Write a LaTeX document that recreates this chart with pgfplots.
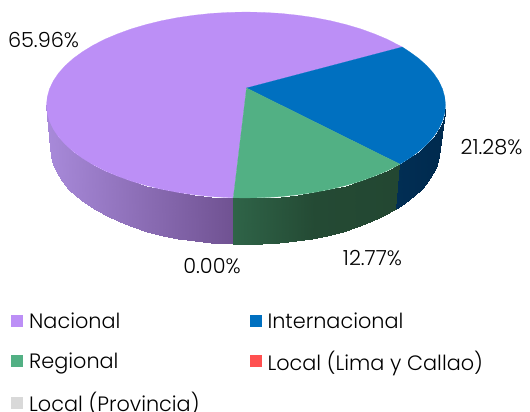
\documentclass[border=0pt]{standalone}
\usepackage{pgfplots}
\usepackage{fontspec}
\setmainfont{Poppins}[UprightFont=* Light]
\pgfplotsset{compat=1.18}
\definecolor{cN}{RGB}{188,143,246}
\definecolor{cI}{RGB}{0,112,192}
\definecolor{cR}{RGB}{82,176,132}
\definecolor{cL}{RGB}{255,80,80}
\definecolor{cP}{RGB}{217,217,217}
\pgfplotsset{
  colormap={sideN}{rgb255=(168,138,218) rgb255=(112,82,146)},
  colormap={sideR}{rgb255=(47,100,72) rgb255=(36,74,52) rgb255=(35,71,50)},
  colormap={sideI}{rgb255=(1,46,84) rgb255=(0,42,78)},
}
\begin{document}
\begin{tikzpicture}
\clip (0,0) rectangle (530pt,412pt);
\begin{axis}[
  at={(0,0)}, anchor=south west,
  scale only axis, width=530pt, height=412pt,
  xmin=0, xmax=530, ymin=0, ymax=412, y dir=reverse,
  hide axis, clip=false,
  point meta min=0, point meta max=1,
  legend columns=2,
  legend cell align=left,
  legend image code/.code={\path[fill=none,draw=none] (0pt,-6pt) rectangle (16pt,6pt);\fill[#1,draw=none] (0pt,-6pt) rectangle (12pt,6pt);},
  legend style={draw=none, fill=none, at={(axis cs:11,310.5)}, anchor=north west,
    font=\fontsize{20.8}{20.8}\selectfont,
    /tikz/column 2/.style={column sep=48pt},
    row sep=16.8pt, inner sep=0pt},
]
\addplot[surf, shader=interp, mesh/rows=2, colormap name=sideN, point meta={(x-47)/186}, forget plot] table {
x y
46.5 105
47.3 113.1
49.5 121.1
53.3 129.1
58.5 136.8
65.2 144.3
73.2 151.5
82.6 158.3
93.2 164.8
104.9 170.8
117.8 176.2
131.6 181.2
146.2 185.5
161.7 189.3
177.8 192.4
194.4 194.8
211.4 196.6
233.3 197.8
50 148
50.7 156.4
53 164.8
56.6 173
61.8 181
68.3 188.8
76.1 196.3
85.3 203.4
95.6 210
107.1 216.2
119.7 221.9
133.1 227.1
147.5 231.6
162.6 235.5
178.3 238.7
194.5 241.2
211.1 243
233.3 244.3
};
\addplot[surf, shader=interp, mesh/rows=2, colormap name=sideR, point meta={(x-233)/163}, forget plot] table {
x y
233.3 197.8
246 198
263.4 197.6
280.6 196.6
297.6 194.8
314.2 192.4
330.3 189.3
345.8 185.5
360.4 181.2
374.2 176.2
387.1 170.8
400 164.2
233.3 244.3
245 244.5
262 244.1
278.9 243
295.5 241.2
311.7 238.7
327.4 235.5
342.5 231.6
356.9 227.1
370.3 221.9
382.9 216.2
396 208.5
};
\addplot[surf, shader=interp, mesh/rows=2, colormap name=sideI, point meta={(x-396)/49}, forget plot] table {
x y
400 164.2
409.4 158.3
418.8 151.5
426.8 144.3
433.5 136.8
438.7 129.1
442.5 121.1
444.7 113.1
445.5 105
396 208.5
404.7 203.4
413.9 196.3
421.7 188.8
428.2 181
433.4 173
437 164.8
439.3 156.4
440 148
};
% Nacional
\addplot[fill=cN, draw=cN, line width=0.2pt] coordinates {
(246.5,88) (233.3,197.8) (211.4,196.6) (194.4,194.8) (177.8,192.4) (161.7,189.3) (146.2,185.5)
(131.6,181.2) (117.8,176.2) (104.9,170.8) (93.2,164.8) (82.6,158.3) (73.2,151.5) (65.2,144.3)
(58.5,136.8) (53.3,129.1) (49.5,121.1) (47.3,113.1) (46.5,105) (47.3,96.9) (49.5,88.9) (53.3,80.9)
(58.5,73.2) (65.2,65.7) (73.2,58.5) (82.6,51.7) (93.2,45.2) (104.9,39.2) (117.8,33.8) (131.6,28.8)
(146.2,24.5) (161.7,20.7) (177.8,17.6) (194.4,15.2) (211.4,13.4) (228.6,12.4) (246,12) (263.4,12.4)
(280.6,13.4) (297.6,15.2) (314.2,17.6) (330.3,20.7) (345.8,24.5) (360.4,28.8) (374.2,33.8) (387.1,39.2)
(402.3,47)
} -- cycle;
\addlegendentry{Nacional}
% Internacional
\addplot[fill=cI, draw=cI, line width=0.2pt] coordinates {
(246.5,88) (402.3,47) (409.4,51.7) (418.8,58.5) (426.8,65.7) (433.5,73.2) (438.7,80.9) (442.5,88.9)
(444.7,96.9) (445.5,105) (444.7,113.1) (442.5,121.1) (438.7,129.1) (433.5,136.8) (426.8,144.3)
(418.8,151.5) (409.4,158.3) (400,164.2)
} -- cycle;
\addlegendentry{Internacional}
% Regional
\addplot[fill=cR, draw=cR, line width=0.2pt] coordinates {
(246.5,88) (400,164.2) (387.1,170.8) (374.2,176.2) (360.4,181.2) (345.8,185.5) (330.3,189.3)
(314.2,192.4) (297.6,194.8) (280.6,196.6) (263.4,197.6) (246,198) (233.3,197.8)
} -- cycle;
\addlegendentry{Regional}
\addlegendimage{fill=cL, draw=none}
\addlegendentry{Local (Lima y Callao)}
\addlegendimage{fill=cP, draw=none}
\addlegendentry{Local (Provincia)}
\node[font=\fontsize{20.8}{20.8}\selectfont] at (axis cs:43.5,40) {65.96\%};
\node[font=\fontsize{20.8}{20.8}\selectfont] at (axis cs:491.5,147) {21.28\%};
\node[font=\fontsize{20.8}{20.8}\selectfont] at (axis cs:372.5,258) {12.77\%};
\node[font=\fontsize{20.8}{20.8}\selectfont] at (axis cs:212,266) {0.00\%};
\end{axis}
\end{tikzpicture}
\end{document}
